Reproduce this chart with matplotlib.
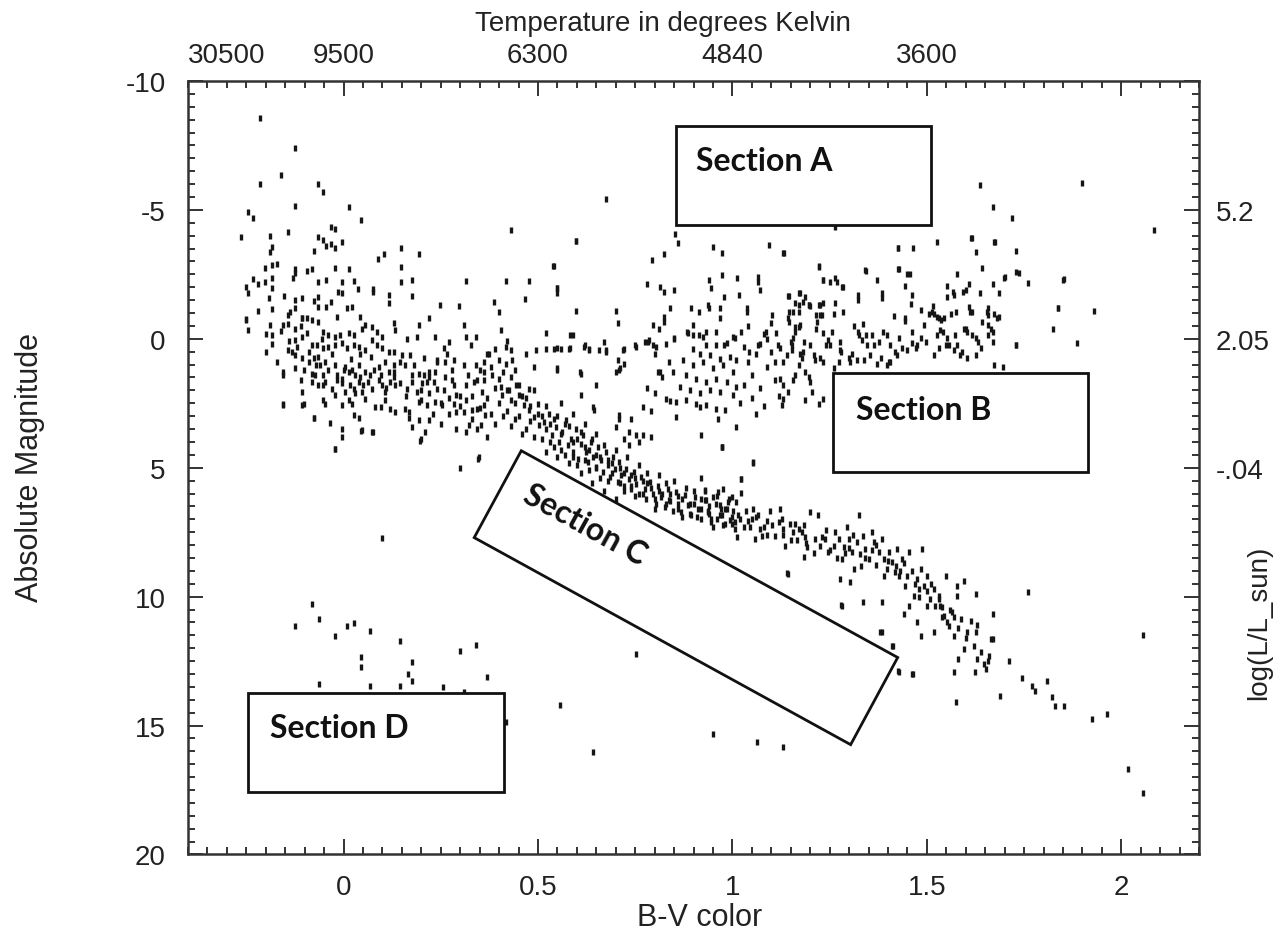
import matplotlib
matplotlib.use("Agg")
import matplotlib.pyplot as plt
from matplotlib.patches import Rectangle, Polygon
from matplotlib.ticker import MultipleLocator

plt.rcParams['font.family'] = ['Liberation Sans', 'DejaVu Sans']
plt.rcParams['axes.unicode_minus'] = False

bright = [(-0.215,-8.56),(-0.125,-7.40),(-0.161,-6.36),(-0.215,-6.0),(-0.065,-6.0),(-0.052,-5.69),
    (-0.125,-5.16),(-0.245,-4.9),(-0.232,-4.68),(0.014,-5.1),(0.045,-4.61),(-0.263,-3.95),(-0.19,-4.0),
    (-0.142,-4.16),(-0.033,-4.35),(-0.022,-4.26),(-0.065,-3.95),(-0.052,-3.85),(-0.045,-3.6),(-0.033,-3.67),
    (-0.022,-3.51),(-0.003,-3.77),(-0.076,-3.41),(-0.19,-3.38),(-0.185,-3.58),(0.088,-3.10),(0.105,-3.28),
    (0.148,-3.54),(0.195,-3.29),(-0.202,-2.76),(-0.185,-2.87),(-0.172,-2.89),(-0.125,-2.71),(-0.125,-2.54),
    (-0.129,-2.37),(-0.093,-2.64),(-0.082,-2.70),(-0.022,-2.74),(0.014,-2.70),(0.148,-2.77),(-0.232,-2.31),
    (-0.22,-2.13),(-0.202,-2.19),(-0.185,-2.35),(-0.183,-1.96),(-0.25,-2.02),(-0.245,-1.77),(-0.065,-2.22),
    (-0.046,-2.28),(-0.005,-2.22),(0.027,-2.26),(0.148,-2.22),(0.176,-2.28),(0.075,-1.93),(0.075,-1.83),
    (0.038,-1.93),(-0.015,-1.83),(-0.005,-1.77),(0.314,-2.26),(0.419,-2.26),(0.477,-2.26),(0.431,-4.22),
    (0.539,-2.84),(0.55,-1.96),(0.55,-1.77),(0.597,-3.81),(0.466,-1.54),(0.388,-1.41),(0.401,-1.05),
    (0.298,-1.26),(0.249,-1.31),(0.176,-1.67),(0.116,-1.70),(0.116,-1.38),(-0.191,-1.57),(-0.154,-1.67),
    (-0.125,-1.50),(-0.106,-1.57),(-0.076,-1.47),(-0.065,-1.63),(-0.065,-1.25),(-0.045,-1.25),(-0.033,-1.41),
    (-0.22,-1.09),(-0.185,-1.14),(-0.25,-0.75),(-0.108,-0.79),(-0.016,-0.86),(0.043,-0.86),(0.219,-0.82),
    (-0.138,-1.05),(-0.125,-1.18),(0.008,-1.18),(0.021,-1.25)]

upper_ms = [(-0.25,-0.73),(-0.245,-0.34),(-0.19,-0.53),(-0.185,-0.14),(-0.155,-0.53),(-0.144,-0.56),
    (-0.142,-0.92),(-0.125,-0.40),(-0.11,-0.51),(-0.108,-0.79),(-0.095,-0.79),(-0.082,-0.73),(-0.095,-0.21),
    (-0.065,-0.66),(-0.052,-0.27),(-0.039,-0.14),(-0.022,-0.08),(-0.009,-0.14),(0.013,-0.21),(0.027,-0.14),
    (0.047,-0.40),(0.056,-0.53),(0.073,-0.47),(0.086,-0.27),(0.099,-0.08),(0.129,-0.60),(0.133,-0.34),
    (0.163,-0.01),(0.193,-0.53),(0.189,-0.08),(0.236,-0.08),(0.31,-0.53),(0.314,-0.08),(0.34,-0.08),(0.37,0.57),
    (-0.185,0.22),(-0.142,0.44),(-0.133,0.50),(-0.125,0.63),(-0.125,0.05),(-0.108,-0.08),(-0.082,0.24),
    (-0.069,0.24),(-0.056,-0.01),(-0.052,0.37),(-0.039,0.31),(-0.022,0.24),(-0.004,0.18),(0.009,0.37),
    (0.026,0.24),(0.039,0.31),(0.043,0.57),(0.056,0.44),(0.073,0.05),(0.086,0.24),(0.099,0.37),(0.116,0.50),
    (0.129,0.50),(0.15,0.63),(0.172,0.63),(0.206,0.76),(0.24,0.83),(0.267,0.57),(0.258,0.37),(0.271,0.11),
    (0.327,0.24),(-0.108,0.76),(-0.09,0.89),(-0.077,0.76),(-0.065,0.70),(-0.047,0.89),
    (-0.155,1.28),(-0.155,1.41),(-0.125,1.15),(-0.103,1.22),(-0.082,1.35),(-0.073,1.41),(-0.06,1.02),
    (-0.052,1.41),(-0.039,1.22),(-0.022,1.02),(-0.017,1.41),(-0.004,1.54),(0.004,1.09),(0.013,1.28),
    (0.021,1.22),(0.03,1.41),(0.039,1.02),(0.043,1.48),(0.056,1.28),(0.069,1.41),(0.077,1.22),(0.095,1.41),
    (0.107,0.89),(0.116,1.28),(0.129,1.02),(0.129,1.48),(0.146,0.89),(0.159,1.02),(0.176,1.41),(0.193,1.35),
    (0.206,1.41),(0.219,1.28),(0.236,1.28),(0.241,0.89),(0.262,0.89),(0.279,1.22),(0.284,0.83),(0.31,1.02),
    (0.34,1.02),(0.361,1.28),
    (-0.082,1.67),(-0.065,1.80),(-0.052,1.80),(-0.047,1.67),(-0.03,1.93),(-0.017,1.61),(-0.004,1.73),
    (0.004,2.06),(0.017,1.80),(0.026,1.93),(0.039,1.67),(0.047,2.06),(0.064,1.67),(0.073,1.93),(0.09,1.61),
    (0.099,1.80),(0.107,2.06),(0.12,1.67),(0.133,1.80),(0.146,1.73),(0.163,1.93),(0.176,1.67),(0.189,2.06),
    (0.202,1.73),(0.215,1.67),(0.219,2.12),(0.232,1.67),(0.241,1.93),(0.258,2.0),(0.284,1.80),(0.288,2.19),
    (0.314,1.80),(0.335,1.67),(0.344,1.61),(0.357,2.06),(-0.108,2.06),(-0.103,2.51),(-0.155,2.51),
    (-0.052,2.38),(-0.047,2.51),(-0.022,2.19),(-0.004,2.58),(0.013,2.38),(0.021,2.51),(0.03,2.12),
    (0.056,2.32),(0.082,2.64),(0.095,2.64),(0.107,2.38),(0.12,2.71),(0.133,2.84),(0.159,2.71),(0.168,2.84),
    (0.193,2.45),(0.198,2.38),(0.215,2.58),(0.236,2.45),(0.254,2.58),(0.271,2.90),(0.284,2.51),(0.288,2.84),
    (0.31,2.84),(0.314,2.38),(0.331,2.77),(0.344,2.71),(0.361,2.58),(0.365,2.97),
    (-0.077,3.09),(-0.034,3.25),(-0.004,3.48),(-0.004,3.81),(0.026,2.97),(0.039,3.09),(0.047,3.55),
    (0.073,3.61),(0.168,3.09),(0.176,3.42),(0.193,3.16),(0.198,3.87),(0.219,3.16),(0.288,3.48),(0.314,3.61),
    (0.322,3.35),(0.344,3.48),(0.353,3.35),(-0.022,4.26),(0.348,4.58),
    (-0.155,2.55),(-0.106,2.55),(-0.077,3.07),(-0.021,4.29),(0.045,3.58),(0.076,3.62),(0.196,3.95),
    (0.30,5.0),(0.347,4.66),
    (-0.2,0.5),(-0.17,0.9),(-0.14,0.1),(-0.11,1.6),(-0.09,0.5),(-0.07,1.0),(-0.03,0.6),(0.0,1.2),
    (0.02,0.8),(0.05,1.8),(0.07,0.7),(0.09,1.1),(0.11,1.9),(0.13,1.3),(0.16,2.2),(0.18,1.0),(0.2,2.0),
    (0.22,1.5),(0.25,2.5),(0.28,1.6),(0.3,2.6),(0.33,2.2),(0.35,1.2),(-0.2,-0.2),(-0.16,-0.3),(-0.12,0.3)]

mid_ms = [(0.404,-0.34),(0.52,-0.21),(0.589,-0.14),(0.671,0.12),(0.783,0.12),(0.804,0.31),(0.752,0.31),
    (0.494,0.44),(0.52,0.38),(0.542,0.38),(0.559,0.38),(0.58,0.38),(0.619,0.31),(0.632,0.44),(0.658,0.44),
    (0.675,0.51),(0.718,0.44),(0.417,0.31),(0.43,0.44),(0.469,0.57),(0.374,0.57),(0.40,0.83),(0.417,0.96),
    (0.434,0.83),(0.49,1.09),(0.55,1.22),(0.611,1.35),(0.709,1.22),(0.722,0.96),(0.808,1.28),(0.838,0.89),
    (0.649,1.80),(0.611,2.19),(0.641,2.64),(0.645,2.77),(0.709,2.97),(0.709,3.10),(0.74,3.10),(0.77,2.64),
    (0.80,2.12),(0.83,2.32),(0.701,3.42),(0.722,3.87),(0.735,4.13),(0.752,3.74),(0.77,3.74),(0.791,3.81),
    (0.761,4.0),(0.735,3.61),(0.92,3.74),(0.972,4.2),(1.01,3.42),(0.851,-0.01),
    (0.383,1.41),(0.40,1.54),(0.404,1.86),(0.408,2.19),(0.426,1.99),(0.43,2.38),(0.443,1.80),(0.451,2.19),
    (0.464,2.58),(0.477,1.93),(0.477,2.77),(0.49,3.03),(0.499,2.51),(0.503,3.35),(0.516,3.22),(0.52,3.48),
    (0.529,2.90),(0.537,3.74),(0.546,3.42),(0.555,4.0),(0.563,3.61),(0.572,3.16),(0.576,4.13),(0.585,3.87),
    (0.589,4.39),(0.598,3.48),(0.602,4.65),(0.611,4.07),(0.615,3.74),(0.623,4.39),(0.628,4.78),(0.636,4.0),
    (0.641,4.58),(0.649,4.97),(0.654,4.20),(0.662,4.71),(0.666,5.17),(0.675,4.39),(0.679,4.91),(0.684,5.36),
    (0.692,4.58),(0.697,5.04),(0.705,5.56),(0.709,4.78),(0.714,5.30),(0.722,5.69),(0.727,5.04),(0.735,5.43),
    (0.74,5.81),(0.748,5.17),(0.752,5.62),(0.761,6.01),(0.765,5.36),(0.774,5.81),(0.778,6.20),(0.787,5.56),
    (0.795,6.01),(0.804,6.40),(0.808,5.69),(0.817,6.14),(0.826,6.53),(0.834,5.81),(0.838,6.27),(0.847,6.66),
    (0.856,5.94),(0.86,6.40),(0.869,6.72),(0.877,6.07),(0.886,6.46),(0.894,6.85),(0.903,6.14),(0.912,6.59),
    (0.92,6.98),(0.929,6.27),(0.937,6.72),(0.946,7.11),(0.959,6.40),(0.967,6.85),(0.976,7.24),(0.985,6.59),
    (0.993,7.04),(1.006,7.37),(1.01,6.33),(1.015,6.85),
    (0.42,2.8),(0.44,3.1),(0.46,2.2),(0.47,3.5),(0.48,2.6),(0.50,2.9),(0.51,3.9),(0.52,2.6),(0.53,3.3),
    (0.54,4.2),(0.55,3.0),(0.56,3.7),(0.57,4.5),(0.58,3.4),(0.59,4.0),(0.60,4.9),(0.61,3.6),(0.62,4.2),
    (0.63,5.1),(0.64,3.9),(0.65,4.5),(0.66,5.4),(0.67,4.1),(0.68,4.7),(0.69,5.2),(0.70,4.3),(0.71,5.0),
    (0.72,5.9),(0.73,4.6),(0.74,5.3),(0.75,6.1),(0.76,4.9),(0.77,5.5),(0.78,5.2),(0.79,5.8),(0.80,6.6),
    (0.81,5.3),(0.82,6.0),(0.83,5.6),(0.84,6.3),(0.85,5.5),(0.86,6.1),(0.87,6.9),(0.88,5.8),(0.89,6.4),
    (0.90,5.9),(0.91,6.9),(0.92,6.2),(0.93,5.9),(0.94,6.5),(0.95,7.3),(0.96,6.1),(0.97,6.6),(0.98,7.2),
    (0.99,6.2),(1.00,6.9),(0.52,4.4),(0.55,4.6),(0.58,4.8),(0.61,5.2),(0.64,5.6),(0.67,5.9),(0.70,6.2),
    (0.56,2.5),(0.59,2.9),(0.62,3.3),(0.65,3.7),
    (0.36,1.6),(0.37,2.3),(0.38,1.1),(0.38,2.9),(0.39,1.9),(0.39,3.3),(0.40,2.5),(0.41,1.3),(0.41,3.0),
    (0.42,2.0),(0.43,3.4),(0.43,1.5),(0.44,2.5),(0.45,3.0),(0.45,1.8),(0.46,3.7),(0.47,2.3),(0.48,3.2),
    (0.49,2.0),(0.49,3.8),(0.37,3.8),(0.36,0.9),(0.39,0.4),(0.42,0.1),(0.44,1.2),(0.35,2.7),(0.33,3.1),
    (0.30,2.2),(0.27,2.3),(0.25,3.3),(0.23,2.9),(0.21,3.6),(0.26,1.5),(0.32,1.4),
    (0.51,3.0),(0.53,4.0),(0.54,3.1),(0.56,4.3),(0.57,3.3),(0.59,4.6),(0.60,3.9),(0.62,4.7),(0.63,4.3),
    (0.65,5.0),(0.66,4.6),(0.68,5.5),(0.69,4.8),(0.71,5.6),(0.72,5.2),(0.74,5.7),(0.75,5.4),(0.77,6.0),
    (0.78,5.6),(0.80,6.2),(0.81,5.9),(0.83,6.4),(0.84,6.0),(0.86,6.6),(0.87,6.2),(0.89,6.8),(0.90,6.4),
    (0.92,6.6),(0.94,6.8),(0.96,7.0),(0.98,6.6),(1.00,7.2)]

lower_ms = [(0.972,4.2),(1.052,4.82),(0.92,5.4),(1.021,5.45),(1.021,5.97),
    (0.929,5.88),(0.933,6.27),(0.938,6.66),(0.946,6.98),(0.95,6.14),(0.963,5.94),(0.968,6.46),(0.972,6.85),
    (0.976,5.82),(0.989,6.33),(0.998,6.14),(1.002,6.66),(1.006,7.11),(1.011,7.69),(1.019,6.98),(1.036,6.66),
    (1.041,7.05),(1.045,7.30),(1.054,6.59),(1.058,7.76),(1.067,6.85),(1.071,7.37),(1.075,7.63),(1.088,7.05),
    (1.097,6.66),(1.101,7.24),(1.11,7.63),(1.122,6.59),(1.127,6.98),(1.131,7.37),(1.135,8.02),(1.148,7.18),
    (1.157,7.50),(1.165,7.82),(1.17,7.37),(1.183,7.24),(1.187,7.69),(1.191,8.08),(1.20,6.72),(1.213,7.76),
    (1.221,6.85),(1.226,8.02),(1.239,7.76),(1.247,8.28),(1.26,8.02),(1.264,7.50),(1.273,7.76),(1.282,8.54),
    (1.286,8.08),(1.294,7.30),(1.299,7.76),(1.307,8.28),(1.312,8.92),(1.32,7.89),(1.325,6.85),(1.329,8.34),
    (1.337,7.63),(1.342,8.15),(1.35,8.54),(1.359,7.50),(1.363,7.89),(1.368,8.79),(1.376,8.28),(1.385,7.76),
    (1.389,8.54),(1.398,8.92),(1.402,8.28),(1.411,8.66),(1.419,9.05),(1.423,8.15),(1.428,9.18),(1.436,8.54),
    (1.445,9.57),(1.454,8.28),(1.462,8.99),(1.475,9.31),(1.479,9.70),(1.484,8.92),(1.488,8.15),(1.492,9.57),
    (1.501,9.18),(1.509,10.09),(1.518,9.70),(1.522,10.35),(1.531,9.96),(1.535,10.35),(1.544,10.74),
    (1.548,9.18),(1.552,11.0),(1.557,11.13),(1.565,10.61),(1.57,11.51),(1.578,9.96),(1.587,10.87),
    (1.595,12.03),(1.604,11.38),(1.613,10.93),(1.621,11.90),(1.626,11.38),(1.63,12.42),(1.638,12.16),
    (1.647,12.61),(1.656,12.48),(1.664,11.64),(1.669,10.67),(1.626,9.89),(1.595,9.38),(1.578,9.57),
    (1.57,12.94),(1.466,9.96),(1.454,10.35),(1.441,10.67),(1.475,11.0),(1.484,11.51),(1.518,11.38),
    (1.54,10.80),(1.501,10.35),(1.385,10.22),(1.337,10.22),(1.282,10.35),(1.277,9.31),(1.303,9.44),
    (1.144,9.12),(1.183,8.47),(1.385,11.38),(1.411,11.90),(1.428,12.94),(1.462,13.0),(1.651,12.81),
    (1.03,7.3),(1.06,6.9),(1.09,7.6),(1.12,7.1),(1.15,7.8),(1.18,7.5),(1.21,8.3),(1.24,7.4),(1.27,8.5),
    (1.30,8.1),(1.33,8.8),(1.36,8.2),(1.39,9.2),(1.42,8.8),(1.45,9.2),(1.48,10.0),(1.51,9.5),(1.54,10.4),
    (1.57,10.8),(1.60,11.6),(1.63,11.1),(1.66,12.3),
    (1.054,4.78),(0.974,4.2),(1.022,5.43),(1.14,9.1),(1.28,10.33),(1.38,11.36),(1.414,11.9),
    (1.05,7.0),(1.08,7.3),(1.13,7.6),(1.16,7.2),(1.19,7.9),(1.23,7.7),(1.25,8.2),(1.29,8.3),(1.31,7.6),
    (1.34,8.5),(1.37,8.0),(1.40,8.6),(1.43,9.0),(1.44,8.7),(1.47,9.5),(1.50,9.8),(1.53,10.1),(1.56,10.5),
    (1.58,11.2)]

giants = [(0.886,-0.21),(0.899,-0.14),(0.924,-0.08),(0.933,-0.27),(0.959,0.25),(0.985,0.18),(1.002,-0.08),
    (0.899,0.38),(0.916,0.57),(0.942,0.64),(0.967,0.77),(0.993,0.70),(1.01,0.83),(0.873,0.83),(0.899,1.02),
    (0.924,0.90),(0.95,1.15),(0.976,1.02),(1.002,1.28),(0.847,1.28),(0.881,1.41),(0.907,1.54),(0.933,1.67),
    (0.959,1.54),(0.985,1.67),(1.01,1.87),(0.864,1.87),(0.89,2.0),(0.916,2.12),(0.942,2.0),(0.967,2.06),
    (1.002,2.19),(0.856,2.45),(0.881,2.38),(0.907,2.51),(0.933,2.58),(0.959,2.71),(0.98,2.77),(0.856,3.03),
    (0.916,2.64),(0.963,3.10),
    (0.674,-5.43),(0.599,-3.81),(0.54,-2.84),(0.55,-1.96),(0.852,-4.06),(0.859,-3.71),(0.824,-3.29),
    (0.794,-3.06),(0.95,-3.55),(0.973,-3.34),(1.094,-3.64),(1.132,-3.34),(1.264,-4.33),(1.427,-3.54),
    (1.464,-3.51),(1.525,-3.77),(1.616,-3.9),(1.627,-3.38),(1.637,-5.97),(1.67,-5.13),(1.718,-4.68),
    (1.9,-6.04),(2.085,-4.23),(1.675,-3.77),(1.728,-3.41),(1.223,-2.84),(1.343,-2.64),(1.427,-2.70),
    (1.45,-2.50),(1.643,-2.74),(1.70,-2.39),(1.736,-2.57),(1.852,-2.31),(1.838,-1.18),(1.929,-1.09),
    (1.825,-0.40),(1.886,0.18),(1.73,0.24),(0.781,-2.13),(0.813,-2.02),(0.824,-1.83),(0.85,-1.89),
    (0.941,-2.28),(0.945,-1.96),(0.973,-2.48),(1.011,-2.35),(1.065,-2.41),(1.065,-2.22),(1.07,-1.89),
    (1.145,-1.67),(1.172,-1.77),(1.182,-1.44),(1.234,-2.28),(1.263,-2.35),(1.268,-2.19),(1.284,-2.02),
    (0.599,-1.09),(0.70,-1.09),(0.706,-0.60),(0.797,-0.53),(0.824,-0.86),(0.824,-0.66),(0.84,-1.18),
    (0.893,-1.18),(0.915,-1.05),(0.936,-1.31),(0.968,-1.18),(0.979,-1.63),(1.016,-1.7),(1.038,-1.21),
    (1.102,-0.92),(1.145,-1.05),(1.172,-1.31),(1.198,-1.31),(1.225,-1.31),(1.214,-0.92),(1.113,-0.21),
    (1.172,-0.47),(0.70,1.28),(0.706,0.83),(0.786,0.05),(0.797,0.24),(0.85,-0.02),(0.583,-0.14),
    (0.55,0.37),(0.583,0.37),(0.62,0.24),(0.631,0.40),(0.674,0.44),(0.722,0.40),(0.749,0.24),
    (0.775,0.11),(0.55,1.15),(0.609,1.28),(0.711,1.15),(0.813,1.28),
    (0.882,-0.26),(0.898,-0.53),(0.915,-0.14),(0.931,0.24),(0.941,-1.18),(0.957,-0.26),(0.968,-0.79),
    (0.979,0.24),(1.006,-0.02),(1.022,-0.26),(1.038,-1.05),(1.043,0.50),(1.065,0.24),(1.086,-0.26),
    (1.118,0.24),(1.145,-0.66),(1.15,0.11),(1.161,-0.26),(1.172,-1.05),(1.182,0.50),(1.198,-1.31),
    (1.214,-0.40),(1.23,-0.92),(1.241,0.24),(1.257,-0.26),(1.279,0.50),(1.284,-1.05),(1.30,0.76),
    (1.322,-0.26),(1.343,-0.14),(1.364,0.24),(1.386,-0.26),(1.402,0.89),(1.418,0.50),(1.429,-0.02),
    (1.445,-0.79),(1.461,-0.26),(1.472,0.37),(1.493,-0.53),(1.514,-1.05),(1.53,-0.79),(1.541,-0.26),
    (1.557,0.24),(1.573,-0.14),(1.584,0.63),(1.60,-0.40),(1.61,-1.05),(1.632,0.11),(1.654,-1.05),
    (1.67,-0.26),(1.68,-0.79),
    (1.131,-3.32),(1.222,-2.80),(1.234,-2.28),(1.252,-2.22),(1.282,-2.02),(1.342,-2.67),(1.372,-2.28),
    (1.425,-3.54),(1.613,-3.9),(1.673,-3.77),(1.729,-2.58),(1.699,-2.37),(1.759,-2.15),(1.85,-2.28),
    (1.837,-1.18),(1.729,0.25),(1.673,1.02),(1.695,1.09),(1.428,-2.71),(1.456,-2.5),(1.445,-2.06),
    (1.577,-2.5),(1.609,-2.11),(1.60,-1.89),(1.669,-2.11),(1.686,-1.79),(1.553,-2.06),(1.566,-1.80),
    (1.594,-1.83),(1.637,-1.76),(1.553,-1.63),(1.57,-1.7),(1.323,-1.70),(1.323,-1.5),(1.384,-1.79),
    (1.384,-1.57),(1.462,-1.7),(1.143,-1.67),(1.174,-1.79),(1.187,-1.63),(1.161,-1.37),(1.157,-1.05),
    (1.2,-1.28),(1.222,-1.31),(1.234,-1.37),(1.265,-1.4),(1.26,-0.98),(1.144,-0.79),(1.174,-0.53),
    (1.161,-0.47),(1.217,-0.66),(1.226,-0.92),(1.234,-0.21),(1.312,-0.49),(1.336,-0.56),(1.415,-0.89),
    (1.445,-0.69),(1.458,-1.34),(1.484,-1.11),(1.505,-0.95),(1.517,-1.28),(1.518,-0.98),(1.527,-0.86),
    (1.536,-0.73),(1.544,-0.79),(1.561,-0.95),(1.574,-1.05),(1.609,-1.24),(1.617,-1.05),(1.656,-1.18),
    (1.656,-0.92),(1.673,-0.98),(1.686,-0.86),(1.643,-0.66),(1.656,-0.53),(1.664,-0.4),(1.596,-0.4),
    (1.604,-0.27),(1.617,-0.14),(1.626,-0.02),(1.656,-0.14),(1.669,0.12),(1.639,0.37),(1.626,0.63),
    (1.604,0.76),(1.591,0.5),(1.578,0.25),(1.57,0.44),(1.553,-0.02),(1.535,-0.34),(1.527,-0.14),
    (1.548,0.25),(1.531,0.37),(1.518,0.63),(1.497,0.11),(1.484,-0.02),(1.475,0.25),(1.462,0.18),
    (1.449,0.44),(1.436,0.37),(1.424,0.63),(1.406,0.89),(1.398,1.02),(1.381,0.76),(1.372,0.96),
    (1.359,-0.14),(1.346,0.25),(1.333,0.05),(1.325,-0.14),(1.308,0.57),(1.303,0.89),(1.321,0.83),
    (1.338,0.83),(1.355,0.63),(1.376,0.11),(1.398,-0.14),(1.406,0.25),
    (1.123,0.37),(1.131,0.89),(1.14,0.63),(1.153,0.25),(1.157,-0.02),(1.153,0.44),(1.174,0.57),
    (1.178,0.76),(1.17,1.02),(1.183,0.11),(1.2,0.25),(1.209,0.63),(1.213,0.83),(1.226,0.76),(1.234,0.89),
    (1.252,0.25),(1.247,0.05),(1.277,0.11),(1.277,0.44),(1.273,0.89),(1.26,1.15),(1.123,1.54),(1.131,1.8),
    (1.144,2.06),(1.157,1.61),(1.161,1.41),(1.187,1.28),(1.196,1.48),(1.2,1.67),(1.204,2.06),(1.187,2.38),
    (1.234,2.32),(1.222,2.51),(1.131,2.32),(1.127,2.58),
    (1.03,0.3),(1.04,0.9),(1.05,1.4),(1.06,0.6),(1.07,1.9),(1.08,-0.2),(1.09,1.1),(1.10,0.5),(1.11,1.6),
    (1.12,2.2),(1.05,2.3),(1.03,1.8),(1.08,2.6),(1.10,-0.6),(1.04,-0.5),(1.06,2.9),(1.02,2.5),(1.09,0.0),
    (1.11,0.9),(1.07,0.2),(0.80,0.6),(0.82,1.5),(0.84,2.4),(0.78,1.9),(0.79,2.8),(0.83,0.2),(0.81,-0.4)]

faint = [(-0.082,10.28),(-0.125,11.13),(-0.064,10.87),(0.009,11.13),(0.026,11.04),(-0.021,11.54),
    (0.069,11.35),(0.146,11.71),(0.045,12.33),(0.045,12.71),(0.176,12.55),(0.165,13.0),(0.176,13.26),
    (0.30,12.1),(0.34,11.88),(0.37,13.1),(-0.064,13.37),(0.069,13.46),(0.146,13.46),(0.256,13.5),
    (0.31,13.68),(0.417,14.88),(0.557,14.21),(0.641,16.02),(0.099,7.74),(0.753,12.23),
    (0.949,15.34),(1.064,15.62),(1.13,15.83),(1.427,12.88),(1.464,13.0),(1.58,12.42),(1.576,14.08),
    (1.623,12.94),(1.687,13.87),(1.71,12.49),(1.744,13.14),(1.77,13.46),(1.778,13.65),(1.808,13.26),
    (1.822,13.91),(1.83,14.24),(1.853,14.24),(1.925,14.73),(1.963,14.56),(1.76,9.83),(1.671,11.65),
    (2.055,11.49),(2.017,16.67),(2.055,17.6)]

temp_ticks = [-0.3, 0.0, 0.5, 1.0, 1.5]
temp_labels = ["30500", "9500", "6300", "4840", "3600"]
lum_ticks = [-5, 0, 5]
lum_labels = ["5.2", "2.05", "-.04"]

stars = bright + upper_ms + mid_ms + lower_ms + giants + faint
bv = [s[0] for s in stars]
mv = [s[1] for s in stars]

fig = plt.figure(figsize=(12.86, 9.37), dpi=100)
ax = fig.add_axes([0.1462, 0.087, 0.7862, 0.8255])

ax.plot(bv, mv, linestyle="none", marker="|", markersize=4.5, markeredgewidth=2.4, color="#151515")

ax.set_xlim(-0.4, 2.2)
ax.set_ylim(20, -10)
ax.set_xticks([0, 0.5, 1, 1.5, 2], labels=["0", "0.5", "1", "1.5", "2"])
ax.set_yticks([-10, -5, 0, 5, 10, 15, 20], labels=["-10", "-5", "0", "5", "10", "15", "20"])
ax.xaxis.set_minor_locator(MultipleLocator(0.05))
ax.yaxis.set_minor_locator(MultipleLocator(0.5))
ax.tick_params(which="both", direction="in", top=True, right=True, color="#333", width=1.4)
ax.tick_params(which="major", length=11)
ax.tick_params(which="minor", length=5)
ax.tick_params(axis="x", labelsize=20, pad=14, labelcolor="#222")
ax.tick_params(axis="y", labelsize=20, pad=16, labelcolor="#222")
for sp in ax.spines.values():
    sp.set_linewidth(1.8)
    sp.set_color("#333")

top = ax.secondary_xaxis("top")
top.set_xticks(temp_ticks, labels=temp_labels)
top.tick_params(length=0, pad=9, labelsize=20, labelcolor="#222")
top.spines["top"].set_visible(False)

right = ax.secondary_yaxis("right")
right.set_yticks(lum_ticks, labels=lum_labels)
right.tick_params(length=0, pad=12, labelsize=20, labelcolor="#222")
right.spines["right"].set_visible(False)

fig.text(663 / 1286, 1 - 24 / 937, "Temperature in degrees Kelvin", ha="center", va="center",
         fontsize=20, color="#222")
fig.text(700 / 1286, 1 - 918 / 937, "B-V color", ha="center", va="center", fontsize=22, color="#222")
fig.text(30 / 1286, 1 - 468 / 937, "Absolute Magnitude", ha="center", va="center", rotation=90,
         fontsize=22, color="#222")
fig.text(1259 / 1286, 1 - 623 / 937, "log(L/L_sun)", ha="center", va="center", rotation=90,
         fontsize=20, color="#222")

# section boxes drawn over the stars
box_kw = dict(facecolor="white", edgecolor="#111", linewidth=2, zorder=3)
ax.add_patch(Rectangle((0.854, -8.26), 1.51 - 0.854, -4.42 + 8.26, **box_kw))
ax.add_patch(Rectangle((1.258, 1.32), 1.915 - 1.258, 5.16 - 1.32, **box_kw))
ax.add_patch(Rectangle((-0.246, 13.72), 0.413 + 0.246, 17.56 - 13.72, **box_kw))
ax.add_patch(Polygon([(0.457, 4.34), (1.425, 12.36), (1.304, 15.74), (0.336, 7.71)], closed=True, **box_kw))

sec_kw = dict(fontsize=23, fontweight="bold", family=["Lato", "DejaVu Sans"], color="#111", zorder=4)
ax.text(0.906, -6.55, "Section A", ha="left", va="baseline", **sec_kw)
ax.text(1.317, 3.10, "Section B", ha="left", va="baseline", **sec_kw)
ax.text(-0.19, 15.43, "Section D", ha="left", va="baseline", **sec_kw)
ax.text(0.621, 7.21, "Section C", ha="center", va="center", rotation=-28.8, rotation_mode="anchor", **sec_kw)

fig.savefig("out.png", dpi=100)
